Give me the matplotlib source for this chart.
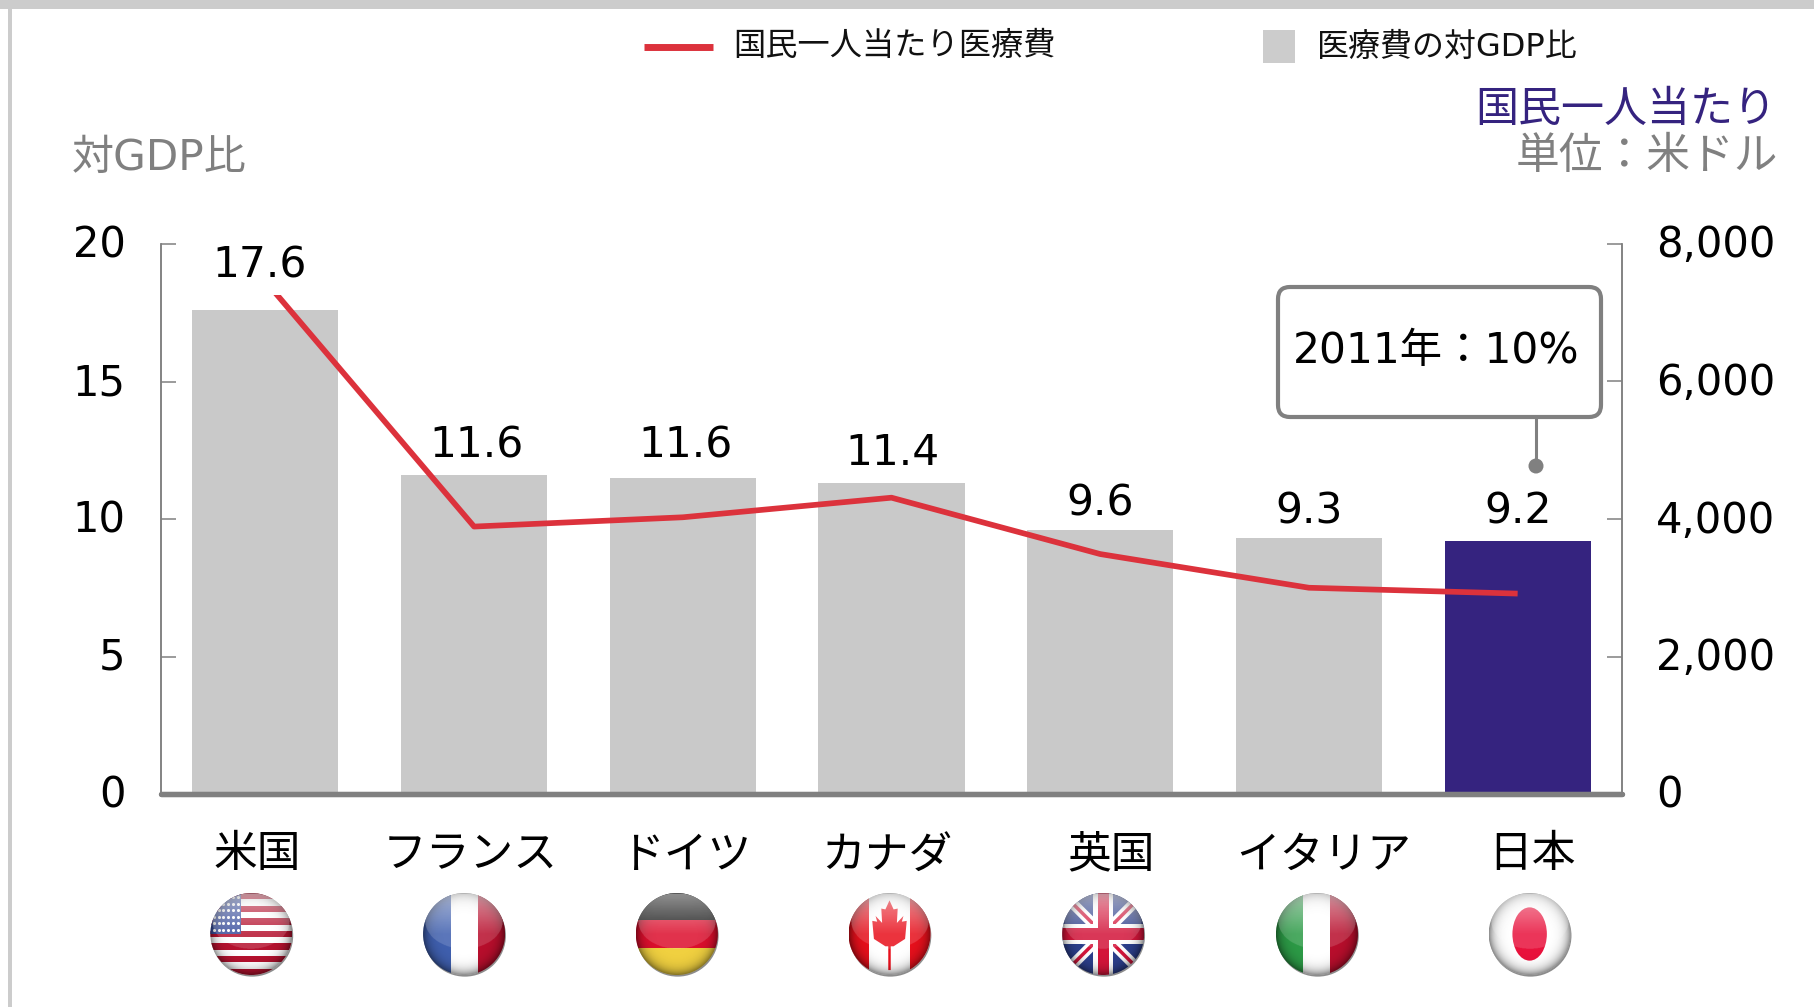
import numpy as np
import matplotlib
matplotlib.use("Agg")
import matplotlib.pyplot as plt
from matplotlib.patches import Circle, Ellipse, Rectangle, Polygon, FancyBboxPatch
from matplotlib.transforms import ScaledTranslation

plt.rcParams['font.family'] = ['DejaVu Sans', 'Noto Sans CJK JP']

countries = ["米国", "フランス", "ドイツ", "カナダ", "英国", "イタリア", "日本"]
gdp_share = [17.6, 11.6, 11.5, 11.3, 9.6, 9.3, 9.2]
gdp_labels = ["17.6", "11.6", "11.6", "11.4", "9.6", "9.3", "9.2"]
per_capita = [7460, 3890, 4025, 4310, 3490, 3000, 2915]
left_ticks = [0, 5, 10, 15, 20]
right_ticks = [0, 2000, 4000, 6000, 8000]

W, H = 1814, 1007
grey = "#808080"
bar_grey = "#c9c9c9"
navy = "#35237f"
red = "#dc323c"

# small nudges seen in the picture, in pixels
label_dx = [-6, 2, 3, 1, 0, 0, 0]
label_dy = [44, 29, 32, 30, 27, 27, 29]
name_dx = [-8, -4, 3, -5, 11, 15, 14]
flag_dx = [-14, -10, -6, -2, 3, 8, 12]


def px_rect(x0, y0, x1, y1):
    return [x0/W, 1 - y1/H, (x1 - x0)/W, (y1 - y0)/H]


def draw_flag(fig, cx, cy, name):
    r = 41
    a = fig.add_axes(px_rect(cx - r*1.15, cy - r*1.15, cx + r*1.15, cy + r*1.15), zorder=5)
    a.set_xlim(-1.15, 1.15)
    a.set_ylim(-1.15, 1.15)
    a.axis("off")
    a.add_patch(Circle((0.02, -0.04), 1.0, fc="#8c8c8c", ec="none", zorder=0))
    clip = Circle((0, 0), 1.0, transform=a.transData)

    def rect(x, y, w, h, c, z=1):
        p = Rectangle((x, y), w, h, fc=c, ec="none", zorder=z)
        a.add_patch(p)
        p.set_clip_path(clip)

    def poly(pts, c, z=2):
        p = Polygon(pts, closed=True, fc=c, ec="none", zorder=z)
        a.add_patch(p)
        p.set_clip_path(clip)

    if name == "米国":
        rect(-1, -1, 2, 2, "white")
        edges = np.linspace(-1, 1, 14)
        for k in range(0, 13, 2):
            rect(-1, edges[k], 2, edges[k+1] - edges[k], "#b5122f")
        rect(-1, 0.0, 0.75, 1, "#3a4f9e", 3)
        sx, sy = np.meshgrid(np.linspace(-0.92, -0.32, 6), np.linspace(0.1, 0.9, 6))
        s = a.scatter(sx.ravel(), sy.ravel(), s=5, c="white", linewidths=0, zorder=4)
        s.set_clip_path(clip)
    elif name == "フランス":
        rect(-1, -1, 0.67, 2, "#3f5fae")
        rect(-0.33, -1, 0.66, 2, "white")
        rect(0.33, -1, 0.67, 2, "#b80e2c")
    elif name == "ドイツ":
        rect(-1, 0.33, 2, 0.67, "#111111")
        rect(-1, -0.33, 2, 0.66, "#dc0f2d")
        rect(-1, -1, 2, 0.67, "#f0d040")
    elif name == "カナダ":
        rect(-1, -1, 2, 2, "white")
        rect(-1, -1, 0.5, 2, "#e8101c")
        rect(0.5, -1, 0.5, 2, "#e8101c")
        leaf_x = [0, .1, .2, .18, .34, .3, .42, .38, .1, .03, .03]
        leaf_y = [.82, .6, .62, .27, .44, .3, .32, -.12, -.3, -.3, -.88]
        pts = list(zip(leaf_x, leaf_y)) + list(zip(-np.array(leaf_x[::-1]), leaf_y[::-1]))
        poly(pts, "#e8101c")
    elif name == "英国":
        rect(-1, -1, 2, 2, "#2c3f8c")
        for sgn in (1, -1):
            poly([(-1, -sgn*0.82), (-0.82, -sgn), (1, sgn*0.82), (0.82, sgn)], "white")
            poly([(-1, -sgn*0.94), (-0.94, -sgn), (1, sgn*0.94), (0.94, sgn)], "#d3153a", 3)
        rect(-0.25, -1, 0.5, 2, "white", 4)
        rect(-1, -0.25, 2, 0.5, "white", 4)
        rect(-0.13, -1, 0.26, 2, "#d3153a", 5)
        rect(-1, -0.15, 2, 0.3, "#d3153a", 5)
    elif name == "イタリア":
        rect(-1, -1, 0.67, 2, "#2c9a46")
        rect(-0.33, -1, 0.66, 2, "white")
        rect(0.33, -1, 0.67, 2, "#b80e2c")
    else:
        rect(-1, -1, 2, 2, "white")
        a.add_patch(Ellipse((0, 0), 0.84, 1.3, fc="#e8123c", ec="none", zorder=2))

    # gloss on the upper half and a dark rim
    yy, xx = np.mgrid[1:-1:200j, -1:1:200j]
    rim = np.zeros((200, 200, 4))
    rim[..., 3] = 0.45*np.clip(np.hypot(xx, yy), 0, 1)**7
    im = a.imshow(rim, extent=(-1, 1, -1, 1), zorder=8, aspect="auto")
    im.set_clip_path(clip)
    gloss = np.ones((200, 200, 4))
    inside = (xx/0.95)**2 + ((yy - 0.32)/0.68)**2 < 1
    gloss[..., 3] = np.where(inside, 0.15 + 0.4*np.clip(yy, 0, 1), 0)
    im = a.imshow(gloss, extent=(-1, 1, -1, 1), zorder=9, aspect="auto")
    im.set_clip_path(clip)
    a.set_xlim(-1.15, 1.15)
    a.set_ylim(-1.15, 1.15)


fig = plt.figure(figsize=(W/100, H/100), dpi=100)

# page in pixel coordinates, for the frame, legend and titles
page = fig.add_axes([0, 0, 1, 1], zorder=0)
page.set_xlim(0, W)
page.set_ylim(H, 0)
page.axis("off")
page.add_patch(Rectangle((0, 0), W, 9, fc="#cccccc", ec="none"))
page.add_patch(Rectangle((8, 0), 4, H, fc="#cccccc", ec="none"))

page.plot([644, 713], [46.5, 46.5], color=red, lw=5, solid_capstyle="butt")
page.text(733, 47, "国民一人当たり医療費", fontsize=23.2, va="center", ha="left", color="#111111")
page.add_patch(Rectangle((1263, 30), 32, 33, fc="#cccccc", ec="none"))
page.text(1317, 47, "医療費の対GDP比", fontsize=23, va="center", ha="left", color="#111111")
page.text(1776, 110, "国民一人当たり", fontsize=31, va="center", ha="right", color=navy)
page.text(1778, 157, "単位：米ドル", fontsize=31.5, va="center", ha="right", color=grey)
page.text(72, 158, "対GDP比", fontsize=30.3, va="center", ha="left", color=grey)

ax = fig.add_axes(px_rect(161, 244, 1622, 794), zorder=2)
ax.patch.set_alpha(0)
x = np.arange(len(countries))
colors = [bar_grey]*6 + [navy]
ax.bar(x, gdp_share, width=0.7, color=colors, zorder=2)
ax.set_xlim(-0.5, 6.5)
ax.set_ylim(0, 20)
ax.set_yticks(left_ticks)
ax.set_xticks([])
ax.tick_params(axis="y", direction="in", length=10.5, width=1.1, color=grey,
               labelsize=30, pad=25.5)

ax2 = ax.twinx()
ax2.patch.set_alpha(0)
ax2.plot(x, per_capita, color=red, lw=4.1, solid_capstyle="butt", zorder=3)
ax2.set_ylim(0, 8000)
ax2.set_yticks(right_ticks)
ax2.set_yticklabels([f"{v:,}" for v in right_ticks])
ax2.tick_params(axis="y", direction="in", length=10.5, width=1.1, color=grey,
                labelsize=30, pad=24.5)

# tick labels sit a little above their ticks in the reference
lift = ScaledTranslation(0, 3/100, fig.dpi_scale_trans)
for a in (ax, ax2):
    for t in a.get_yticklabels():
        t.set_transform(t.get_transform() + lift)
    a.spines["top"].set_visible(False)
    a.spines["left"].set_color(grey)
    a.spines["right"].set_color(grey)
    a.spines["left"].set_linewidth(1.1)
    a.spines["right"].set_linewidth(1.1)
    a.spines["bottom"].set_color(grey)
    a.spines["bottom"].set_linewidth(3.8)
    a.spines["bottom"].set_zorder(6)
    a.spines["bottom"].set_capstyle("round")

for i, lab in enumerate(gdp_labels):
    box = dict(fc="white", ec="none", pad=6) if i == 0 else None
    ax2.annotate(lab, (x[i], gdp_share[i]), xycoords=ax.transData,
                 xytext=(label_dx[i], label_dy[i]), textcoords="offset pixels",
                 ha="center", va="center", fontsize=30.5, color="black", zorder=7,
                 bbox=box, annotation_clip=False)

for i, name in enumerate(countries):
    ax.annotate(name, (x[i], 0), xycoords=ax.transData, xytext=(name_dx[i], -61),
                textcoords="offset pixels", ha="center", va="center", fontsize=31.5,
                color="black", annotation_clip=False)
    cx = ax.transData.transform((x[i], 0))[0] + flag_dx[i]
    draw_flag(fig, cx, 934, name)

# callout over Japan
over = fig.add_axes([0, 0, 1, 1], zorder=4)
over.set_xlim(0, W)
over.set_ylim(H, 0)
over.axis("off")
over.plot([1536, 1536], [417, 466], color=grey, lw=2.2)
over.add_patch(Circle((1536, 466), 7.5, fc=grey, ec="none"))
over.add_patch(FancyBboxPatch((1288, 297), 303, 110, boxstyle="round,pad=10,rounding_size=12",
                              fc="white", ec=grey, lw=3))
over.text(1436, 350.5, "2011年：10%", fontsize=30.5, ha="center", va="center", color="black")

fig.savefig("out.png", dpi=100)
